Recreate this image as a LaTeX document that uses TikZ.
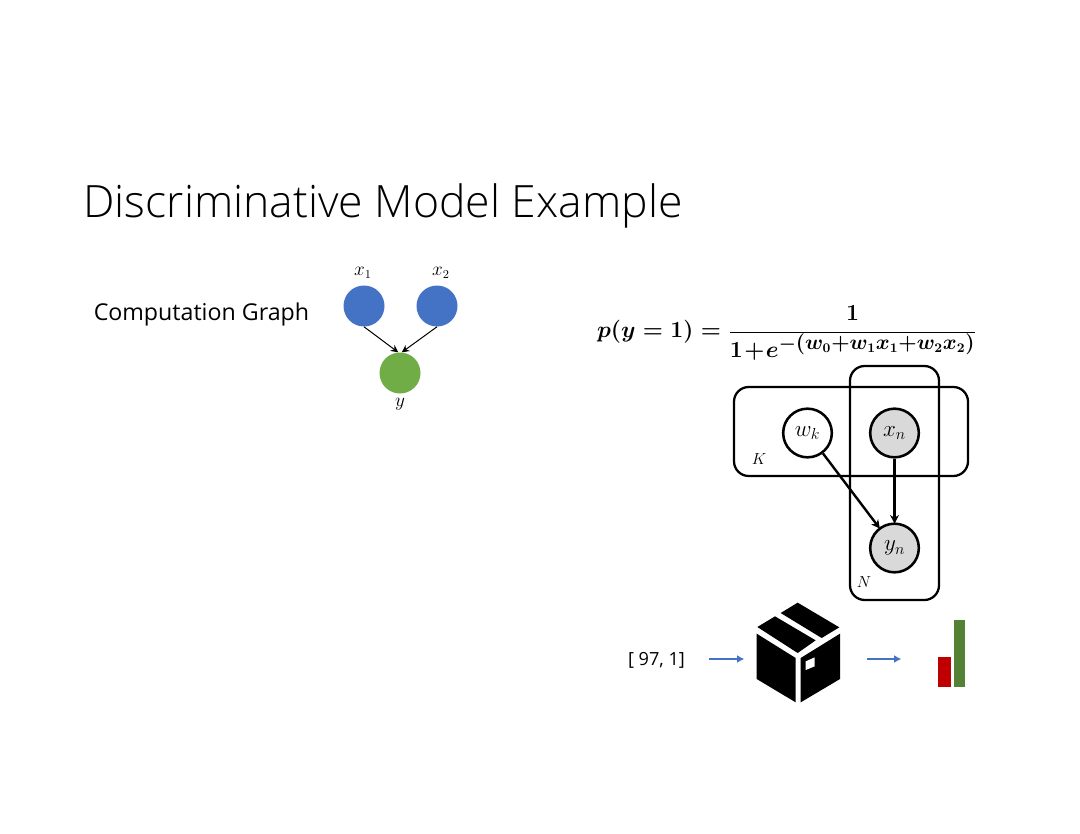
\documentclass[tikz,border=0pt]{standalone}
\usepackage{fontspec}
\setmainfont{Open Sans}
\newfontfamily\titlefont{Open Sans Light}
\usetikzlibrary{arrows.meta}
\definecolor{nblue}{HTML}{4472C4}
\definecolor{ngreen}{HTML}{70AD47}
\definecolor{dgreen}{HTML}{548235}
\definecolor{nred}{HTML}{C00000}
\definecolor{ngray}{HTML}{D9D9D9}
\tikzset{
  graphnode/.style={circle,minimum size=30.75pt,inner sep=0pt},
  platenode/.style={circle,draw=black,line width=1.9pt,minimum size=36.5pt,inner sep=0pt,font=\fontsize{16.5}{16.5}\selectfont},
  plate/.style={draw=black,line width=1.7pt,rounded corners=11pt},
  thinarrow/.style={draw=black,line width=.75pt,-{Stealth[length=5.5pt,width=5.5pt]}},
  platearrow/.style={draw=black,line width=1.8pt,-{Stealth[length=6.5pt,width=6.5pt]},shorten >=-1pt},
  bluearrow/.style={draw=nblue,line width=1.5pt,-{Latex[length=5.5pt,width=6pt]}},
  mlabel/.style={inner sep=0pt,font=\fontsize{13.5}{13.5}\selectfont},
  platelabel/.style={inner sep=0pt,font=\fontsize{13}{13}\selectfont}
}
\begin{document}
\begin{tikzpicture}[x=.75pt,y=-.75pt]
\useasboundingbox (0,0) rectangle (1080,834);
\fill[white] (0,0) rectangle (1080,834);
\node[inner sep=0pt,anchor=west,font=\titlefont\fontsize{33.4}{33.4}\selectfont] (title) at (83,206) {Discriminative Model Example};
\node[inner sep=0pt,anchor=west,font=\fontsize{17.4}{17.4}\selectfont] (cg) at (93.5,314) {Computation Graph};
% computation graph
\node[graphnode,fill=nblue] (x1) at (364,306) {};
\node[graphnode,fill=nblue] (x2) at (437,306) {};
\node[graphnode,fill=ngreen] (y) at (400,373) {};
\node[mlabel] (lx1) at (363,273) {$x_1$};
\node[mlabel] (lx2) at (441,273) {$x_2$};
\node[mlabel] (ly) at (400,404) {$y$};
\draw[thinarrow] (x1.south) -- (y.95);
\draw[thinarrow] (x2.south) -- (y.85);
% equation
\node[inner sep=0pt,font=\fontsize{19}{19}\selectfont] (eq) at (787,333) {{\boldmath$\displaystyle p(y=1)={1\over 1\!+\!e^{-\scalebox{1.1}{$\scriptstyle(w_0+w_1x_1+w_2x_2)$}}}$}};
% plates
\node[plate,minimum width=175.5pt,minimum height=66.75pt,inner sep=0pt] (K) at (851,431.5) {};
\node[plate,minimum width=66.75pt,minimum height=175.5pt,inner sep=0pt] (N) at (894.5,483) {};
\node[platenode,fill=white] (w) at (807.5,433) {$w_k$};
\node[platenode,fill=ngray] (xn) at (894.5,433) {$x_n$};
\node[platenode,fill=ngray] (yn) at (894.5,548) {$y_n$};
\node[platelabel] (lK) at (759,459) {$K$};
\node[platelabel] (lN) at (864,582) {$N$};
\draw[platearrow] (w) -- (yn);
\draw[platearrow] (xn) -- (yn);
% bottom row
\node[inner sep=0pt,font=\fontsize{13.6}{13.6}\selectfont] (inp) at (656.5,660) {[ 97, 1]};
\begin{scope}[shift={(750,598)},x=.25pt,y=-.25pt]
\fill[black] (22,87) -- (75,55) -- (197,127) -- (143,165) -- cycle;
\fill[black] (92,45) -- (143,14) -- (268,88) -- (215,120) -- cycle;
\fill[black] (20,107) -- (137,180) -- (137,313) -- (20,243) -- cycle;
\fill[black] (152,180) -- (270,107) -- (270,243) -- (152,313) -- cycle;
\fill[white] (167,190) -- (194,178) -- (194,205) -- (167,216) -- cycle;
\coordinate (boxin) at (-17,183);
\coordinate (boxout) at (351,183);
\coordinate (inpa) at (-123,183);
\coordinate (outa) at (454,183);
\end{scope}
\draw[bluearrow] (inpa) -- (boxin);
\draw[bluearrow] (boxout) -- (outa);
\fill[nred] (938.3,657) rectangle (951,687);
\fill[dgreen] (953.5,620) rectangle (965.3,687);
\end{tikzpicture}
\end{document}
